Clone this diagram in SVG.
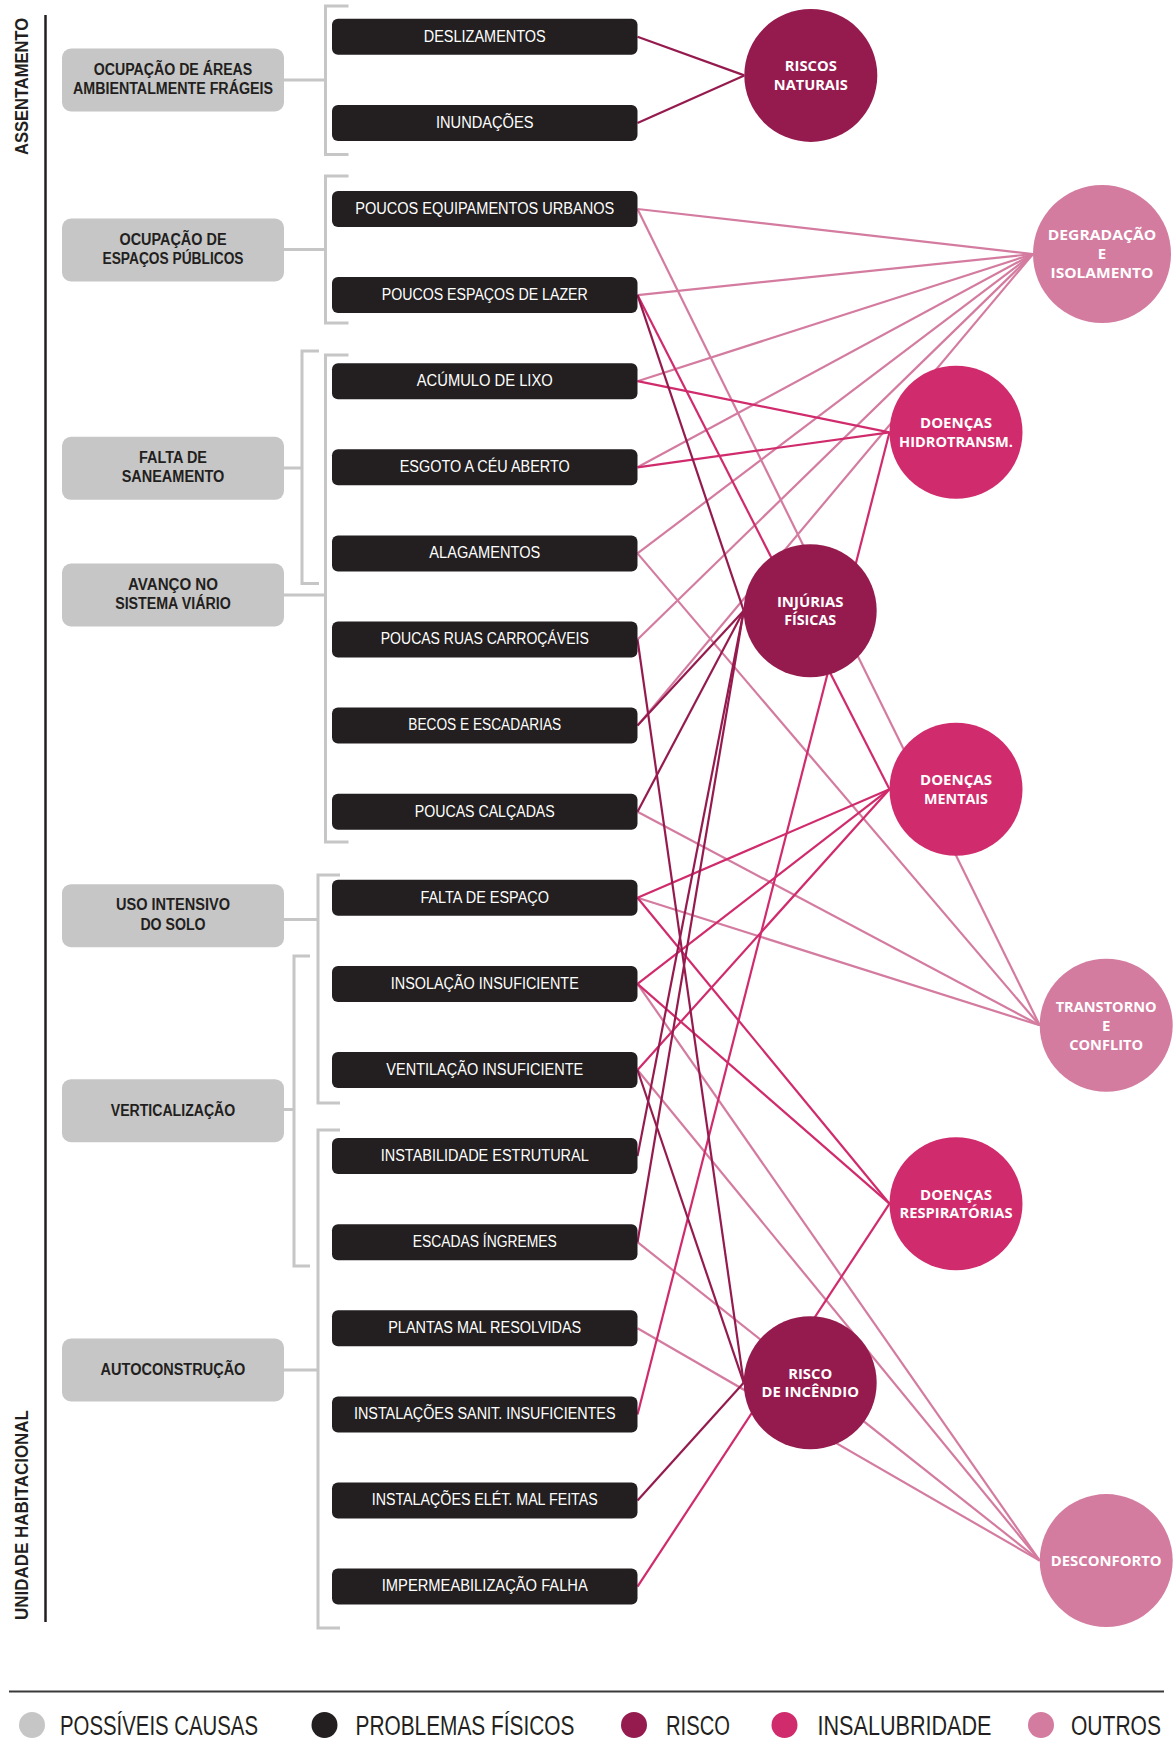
<svg xmlns="http://www.w3.org/2000/svg" width="1176" height="1738" viewBox="0 0 1176 1738">
<style>
.cause rect{fill:#c6c6c6}
.cause text{font-family:"Liberation Sans Narrow","Liberation Sans",Arial,sans-serif;font-weight:bold;font-size:16px;fill:#231f20;text-anchor:middle}
.prob rect{fill:#231f20}
.prob text{font-family:"Liberation Sans Narrow","Liberation Sans",Arial,sans-serif;font-size:16px;fill:#ffffff;text-anchor:middle}
.circ text{font-family:"Open Sans","Noto Sans","Liberation Sans",sans-serif;font-weight:bold;font-size:15px;fill:#ffffff;text-anchor:middle}
.risk circle{fill:#951b4f}
.ins circle{fill:#d02b6c}
.out circle{fill:#d47ba0}
.br{stroke:#c6c6c6;stroke-width:3;fill:none}
#connectors line{stroke-width:2.2}
.lr{stroke:#951b4f}
.li{stroke:#d02b6c}
.lo{stroke:#d47ba0}
.side{font-family:"Liberation Sans",Arial,sans-serif;font-weight:bold;font-size:19px;fill:#231f20;text-anchor:middle}
.leg{font-family:"Liberation Sans Narrow","Liberation Sans",Arial,sans-serif;font-size:27px;fill:#231f20}
</style>
<rect width="1176" height="1738" fill="#ffffff"/>

<g id="side-labels">
<line x1="45.5" y1="15" x2="45.5" y2="1622" stroke="#231f20" stroke-width="2.5"/>
<text class="side" transform="translate(27.5,86.5) rotate(-90)" textLength="137" lengthAdjust="spacingAndGlyphs">ASSENTAMENTO</text>
<text class="side" transform="translate(27.5,1515) rotate(-90)" textLength="210" lengthAdjust="spacingAndGlyphs">UNIDADE HABITACIONAL</text>
</g>

<g id="brackets">
<path class="br" d="M348.5,6 H325.5 V154.5 H348.5 M284,80 H325.5"/>
<path class="br" d="M348.5,176 H325.5 V323 H348.5 M284,249.5 H325.5"/>
<path class="br" d="M319,351 H302 V583.5 H319 M284,468 H302"/>
<path class="br" d="M348.5,355 H325.5 V842 H348.5 M284,595 H325.5"/>
<path class="br" d="M340,875 H318 V1103 H340 M284,919.5 H318"/>
<path class="br" d="M310,956 H294 V1266 H310 M284,1109.5 H294"/>
<path class="br" d="M340,1130 H318 V1628 H340 M284,1370 H318"/>
</g>

<g id="connectors">
<line class="lo" x1="637.5" y1="209" x2="1033" y2="254"/>
<line class="lo" x1="637.5" y1="209" x2="1039.7" y2="1025.3"/>
<line class="lo" x1="637.5" y1="295.1" x2="1033" y2="254"/>
<line class="lo" x1="637.5" y1="381.2" x2="1033" y2="254"/>
<line class="lo" x1="637.5" y1="467.3" x2="1033" y2="254"/>
<line class="lo" x1="637.5" y1="553.4" x2="1033" y2="254"/>
<line class="lo" x1="637.5" y1="553.4" x2="1039.7" y2="1025.3"/>
<line class="lo" x1="637.5" y1="639.5" x2="1033" y2="254"/>
<line class="lo" x1="637.5" y1="725.6" x2="1033" y2="254"/>
<line class="lo" x1="637.5" y1="811.7" x2="1039.7" y2="1025.3"/>
<line class="lo" x1="637.5" y1="897.8" x2="1039.7" y2="1025.3"/>
<line class="lo" x1="637.5" y1="983.9" x2="1039.7" y2="1560.6"/>
<line class="lo" x1="637.5" y1="1070" x2="1039.7" y2="1560.6"/>
<line class="lo" x1="637.5" y1="1242.2" x2="1039.7" y2="1560.6"/>
<line class="lo" x1="637.5" y1="1328.3" x2="1039.7" y2="1560.6"/>
<line class="li" x1="637.5" y1="295.1" x2="889.5" y2="789.2"/>
<line class="li" x1="637.5" y1="381.2" x2="889.5" y2="432.3"/>
<line class="li" x1="637.5" y1="467.3" x2="889.5" y2="432.3"/>
<line class="li" x1="637.5" y1="897.8" x2="889.5" y2="789.2"/>
<line class="li" x1="637.5" y1="897.8" x2="889.5" y2="1203.7"/>
<line class="li" x1="637.5" y1="983.9" x2="889.5" y2="789.2"/>
<line class="li" x1="637.5" y1="983.9" x2="889.5" y2="1203.7"/>
<line class="li" x1="637.5" y1="1070" x2="889.5" y2="789.2"/>
<line class="li" x1="637.5" y1="1414.4" x2="889.5" y2="432.3"/>
<line class="li" x1="637.5" y1="1586.6" x2="889.5" y2="1203.7"/>
<line class="lr" x1="637.5" y1="36.8" x2="744.3" y2="75.4"/>
<line class="lr" x1="637.5" y1="122.9" x2="744.3" y2="75.4"/>
<line class="lr" x1="637.5" y1="295.1" x2="743.7" y2="610.7"/>
<line class="lr" x1="637.5" y1="639.5" x2="743.7" y2="1382.7"/>
<line class="lr" x1="637.5" y1="725.6" x2="743.7" y2="610.7"/>
<line class="lr" x1="637.5" y1="811.7" x2="743.7" y2="610.7"/>
<line class="lr" x1="637.5" y1="1070" x2="743.7" y2="1382.7"/>
<line class="lr" x1="637.5" y1="1156.1" x2="743.7" y2="610.7"/>
<line class="lr" x1="637.5" y1="1242.2" x2="743.7" y2="610.7"/>
<line class="lr" x1="637.5" y1="1500.5" x2="743.7" y2="1382.7"/>
</g>

<g id="cause-1" class="cause"><rect x="62" y="48.5" width="222" height="63" rx="9"/><text x="173" y="74.5" textLength="158.5" lengthAdjust="spacingAndGlyphs">OCUPAÇÃO DE ÁREAS</text><text x="173" y="94" textLength="200" lengthAdjust="spacingAndGlyphs">AMBIENTALMENTE FRÁGEIS</text></g>
<g id="cause-2" class="cause"><rect x="62" y="218.5" width="222" height="63" rx="9"/><text x="173" y="244.5" textLength="107" lengthAdjust="spacingAndGlyphs">OCUPAÇÃO DE</text><text x="173" y="264" textLength="141" lengthAdjust="spacingAndGlyphs">ESPAÇOS PÚBLICOS</text></g>
<g id="cause-3" class="cause"><rect x="62" y="436.8" width="222" height="63" rx="9"/><text x="173" y="462.8" textLength="68" lengthAdjust="spacingAndGlyphs">FALTA DE</text><text x="173" y="482.3" textLength="102.7" lengthAdjust="spacingAndGlyphs">SANEAMENTO</text></g>
<g id="cause-4" class="cause"><rect x="62" y="563.5" width="222" height="63" rx="9"/><text x="173" y="589.5" textLength="90" lengthAdjust="spacingAndGlyphs">AVANÇO NO</text><text x="173" y="609" textLength="115.7" lengthAdjust="spacingAndGlyphs">SISTEMA VIÁRIO</text></g>
<g id="cause-5" class="cause"><rect x="62" y="884.2" width="222" height="63" rx="9"/><text x="173" y="910.2" textLength="114" lengthAdjust="spacingAndGlyphs">USO INTENSIVO</text><text x="173" y="929.7" textLength="65.2" lengthAdjust="spacingAndGlyphs">DO SOLO</text></g>
<g id="cause-6" class="cause"><rect x="62" y="1079.2" width="222" height="63" rx="9"/><text x="173" y="1115.7" textLength="124.5" lengthAdjust="spacingAndGlyphs">VERTICALIZAÇÃO</text></g>
<g id="cause-7" class="cause"><rect x="62" y="1338.5" width="222" height="63" rx="9"/><text x="173" y="1375" textLength="144.8" lengthAdjust="spacingAndGlyphs">AUTOCONSTRUÇÃO</text></g>

<g id="prob-0" class="prob"><rect x="332" y="18.8" width="305.5" height="36" rx="6"/><text x="484.75" y="41.6" textLength="122" lengthAdjust="spacingAndGlyphs">DESLIZAMENTOS</text></g>
<g id="prob-1" class="prob"><rect x="332" y="104.9" width="305.5" height="36" rx="6"/><text x="484.75" y="127.7" textLength="97.5" lengthAdjust="spacingAndGlyphs">INUNDAÇÕES</text></g>
<g id="prob-2" class="prob"><rect x="332" y="191" width="305.5" height="36" rx="6"/><text x="484.75" y="213.8" textLength="259" lengthAdjust="spacingAndGlyphs">POUCOS EQUIPAMENTOS URBANOS</text></g>
<g id="prob-3" class="prob"><rect x="332" y="277.1" width="305.5" height="36" rx="6"/><text x="484.75" y="299.9" textLength="206" lengthAdjust="spacingAndGlyphs">POUCOS ESPAÇOS DE LAZER</text></g>
<g id="prob-4" class="prob"><rect x="332" y="363.2" width="305.5" height="36" rx="6"/><text x="484.75" y="386" textLength="136" lengthAdjust="spacingAndGlyphs">ACÚMULO DE LIXO</text></g>
<g id="prob-5" class="prob"><rect x="332" y="449.3" width="305.5" height="36" rx="6"/><text x="484.75" y="472.1" textLength="170" lengthAdjust="spacingAndGlyphs">ESGOTO A CÉU ABERTO</text></g>
<g id="prob-6" class="prob"><rect x="332" y="535.4" width="305.5" height="36" rx="6"/><text x="484.75" y="558.2" textLength="111" lengthAdjust="spacingAndGlyphs">ALAGAMENTOS</text></g>
<g id="prob-7" class="prob"><rect x="332" y="621.5" width="305.5" height="36" rx="6"/><text x="484.75" y="644.3" textLength="208" lengthAdjust="spacingAndGlyphs">POUCAS RUAS CARROÇÁVEIS</text></g>
<g id="prob-8" class="prob"><rect x="332" y="707.6" width="305.5" height="36" rx="6"/><text x="484.75" y="730.4" textLength="153" lengthAdjust="spacingAndGlyphs">BECOS E ESCADARIAS</text></g>
<g id="prob-9" class="prob"><rect x="332" y="793.7" width="305.5" height="36" rx="6"/><text x="484.75" y="816.5" textLength="140" lengthAdjust="spacingAndGlyphs">POUCAS CALÇADAS</text></g>
<g id="prob-10" class="prob"><rect x="332" y="879.8" width="305.5" height="36" rx="6"/><text x="484.75" y="902.6" textLength="128.6" lengthAdjust="spacingAndGlyphs">FALTA DE ESPAÇO</text></g>
<g id="prob-11" class="prob"><rect x="332" y="965.9" width="305.5" height="36" rx="6"/><text x="484.75" y="988.7" textLength="188" lengthAdjust="spacingAndGlyphs">INSOLAÇÃO INSUFICIENTE</text></g>
<g id="prob-12" class="prob"><rect x="332" y="1052" width="305.5" height="36" rx="6"/><text x="484.75" y="1074.8" textLength="197" lengthAdjust="spacingAndGlyphs">VENTILAÇÃO INSUFICIENTE</text></g>
<g id="prob-13" class="prob"><rect x="332" y="1138.1" width="305.5" height="36" rx="6"/><text x="484.75" y="1160.9" textLength="208" lengthAdjust="spacingAndGlyphs">INSTABILIDADE ESTRUTURAL</text></g>
<g id="prob-14" class="prob"><rect x="332" y="1224.2" width="305.5" height="36" rx="6"/><text x="484.75" y="1247" textLength="144" lengthAdjust="spacingAndGlyphs">ESCADAS ÍNGREMES</text></g>
<g id="prob-15" class="prob"><rect x="332" y="1310.3" width="305.5" height="36" rx="6"/><text x="484.75" y="1333.1" textLength="193" lengthAdjust="spacingAndGlyphs">PLANTAS MAL RESOLVIDAS</text></g>
<g id="prob-16" class="prob"><rect x="332" y="1396.4" width="305.5" height="36" rx="6"/><text x="484.75" y="1419.2" textLength="261.6" lengthAdjust="spacingAndGlyphs">INSTALAÇÕES SANIT. INSUFICIENTES</text></g>
<g id="prob-17" class="prob"><rect x="332" y="1482.5" width="305.5" height="36" rx="6"/><text x="484.75" y="1505.3" textLength="226" lengthAdjust="spacingAndGlyphs">INSTALAÇÕES ELÉT. MAL FEITAS</text></g>
<g id="prob-18" class="prob"><rect x="332" y="1568.6" width="305.5" height="36" rx="6"/><text x="484.75" y="1591.4" textLength="206" lengthAdjust="spacingAndGlyphs">IMPERMEABILIZAÇÃO FALHA</text></g>

<g id="riscos-naturais" class="circ risk"><circle cx="810.8" cy="75.4" r="66.5"/><text x="810.8" y="71.4" textLength="52" lengthAdjust="spacingAndGlyphs">RISCOS</text><text x="810.8" y="90.1" textLength="74" lengthAdjust="spacingAndGlyphs">NATURAIS</text></g>
<g id="degradacao" class="circ out"><circle cx="1102" cy="254" r="69"/><text x="1102" y="240.3" textLength="108.6" lengthAdjust="spacingAndGlyphs">DEGRADAÇÃO</text><text x="1102" y="259.3">E</text><text x="1102" y="278.4" textLength="103" lengthAdjust="spacingAndGlyphs">ISOLAMENTO</text></g>
<g id="hidrotransm" class="circ ins"><circle cx="956" cy="432.3" r="66.5"/><text x="956" y="428.3" textLength="72" lengthAdjust="spacingAndGlyphs">DOENÇAS</text><text x="956" y="447" textLength="114" lengthAdjust="spacingAndGlyphs">HIDROTRANSM.</text></g>
<g id="injurias" class="circ risk"><circle cx="810.2" cy="610.7" r="66.5"/><text x="810.2" y="606.7" textLength="66.5" lengthAdjust="spacingAndGlyphs">INJÚRIAS</text><text x="810.2" y="625.4" textLength="52" lengthAdjust="spacingAndGlyphs">FÍSICAS</text></g>
<g id="mentais" class="circ ins"><circle cx="956" cy="789.2" r="66.5"/><text x="956" y="785.2" textLength="72" lengthAdjust="spacingAndGlyphs">DOENÇAS</text><text x="956" y="803.9" textLength="64" lengthAdjust="spacingAndGlyphs">MENTAIS</text></g>
<g id="transtorno" class="circ out"><circle cx="1106.2" cy="1025.3" r="66.5"/><text x="1106.2" y="1011.6" textLength="101" lengthAdjust="spacingAndGlyphs">TRANSTORNO</text><text x="1106.2" y="1030.6">E</text><text x="1106.2" y="1049.7" textLength="74" lengthAdjust="spacingAndGlyphs">CONFLITO</text></g>
<g id="respiratorias" class="circ ins"><circle cx="956" cy="1203.7" r="66.5"/><text x="956" y="1199.7" textLength="72" lengthAdjust="spacingAndGlyphs">DOENÇAS</text><text x="956" y="1218.4" textLength="113" lengthAdjust="spacingAndGlyphs">RESPIRATÓRIAS</text></g>
<g id="incendio" class="circ risk"><circle cx="810.2" cy="1382.7" r="66.5"/><text x="810.2" y="1378.7" textLength="44" lengthAdjust="spacingAndGlyphs">RISCO</text><text x="810.2" y="1397.4" textLength="97.5" lengthAdjust="spacingAndGlyphs">DE INCÊNDIO</text></g>
<g id="desconforto" class="circ out"><circle cx="1106.2" cy="1560.6" r="66.5"/><text x="1106.2" y="1566" textLength="111" lengthAdjust="spacingAndGlyphs">DESCONFORTO</text></g>

<g id="legend">
<line x1="9" y1="1691.5" x2="1164" y2="1691.5" stroke="#3a3a3a" stroke-width="2"/>
<circle cx="32" cy="1725" r="13" fill="#c6c6c6"/>
<text class="leg" x="60" y="1735" textLength="198" lengthAdjust="spacingAndGlyphs">POSSÍVEIS CAUSAS</text>
<circle cx="324.5" cy="1725" r="13" fill="#231f20"/>
<text class="leg" x="355.5" y="1735" textLength="219" lengthAdjust="spacingAndGlyphs">PROBLEMAS FÍSICOS</text>
<circle cx="634" cy="1725" r="13" fill="#951b4f"/>
<text class="leg" x="666" y="1735" textLength="64" lengthAdjust="spacingAndGlyphs">RISCO</text>
<circle cx="784.5" cy="1725" r="13" fill="#d02b6c"/>
<text class="leg" x="817.5" y="1735" textLength="174" lengthAdjust="spacingAndGlyphs">INSALUBRIDADE</text>
<circle cx="1041" cy="1725" r="13" fill="#d47ba0"/>
<text class="leg" x="1071" y="1735" textLength="90" lengthAdjust="spacingAndGlyphs">OUTROS</text>
</g>
</svg>
